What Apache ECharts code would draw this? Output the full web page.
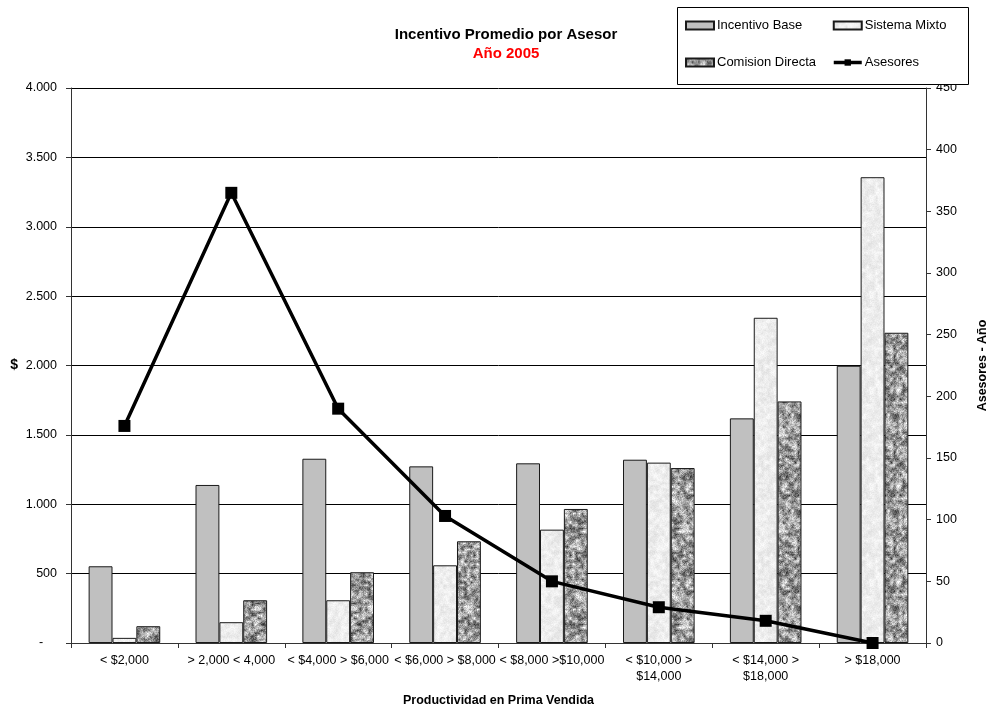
<!DOCTYPE html>
<html>
<head>
<meta charset="utf-8">
<title>Incentivo Promedio por Asesor</title>
<script src="https://cdn.jsdelivr.net/npm/echarts@6/dist/echarts.min.js"></script>
<style>
  html, body { margin: 0; padding: 0; background: #fff; }
  #chart { width: 990px; height: 709px; }
</style>
</head>
<body>
<div id="chart"></div>
<script>
// Productivity brackets (x axis)
const categories = [
  '< $2,000',
  '> 2,000 < 4,000',
  '< $4,000 > $6,000',
  '< $6,000 > $8,000',
  '< $8,000 >$10,000',
  '< $10,000 >\n$14,000',
  '< $14,000 >\n$18,000',
  '> $18,000'
];

// Average incentive per advisor ($), by scheme
const incentivoBase   = [553, 1139, 1328, 1273, 1295, 1321, 1619, 1998];
const sistemaMixto    = [37, 150, 308, 560, 817, 1300, 2344, 3357];
const comisionDirecta = [121, 308, 510, 733, 966, 1261, 1741, 2236];

// Number of advisors per bracket (right axis)
const asesores = [176, 365, 190, 103, 50, 29, 18, 0];

// Axis ranges
const leftMax = 4000, leftStep = 500;
const rightMax = 450, rightStep = 50;

const FONT = '"Liberation Sans", Arial, Helvetica, sans-serif';

// Deterministic hash used to build the stone-like bar fills
function speck(i) {
  const x = Math.sin(i * 12.9898 + 78.233) * 43758.5453;
  return x - Math.floor(x);
}

// Tileable value noise: lattice every `cell` px, bilinear blend, plus fine grain
function makeTexture(size, base, spread, cell, grain, seed) {
  const c = document.createElement('canvas');
  c.width = size; c.height = size;
  const ctx = c.getContext('2d');
  const img = ctx.createImageData(size, size);
  const n = size / cell;
  const lat = (i, j) => speck(seed + ((i % n + n) % n) * 131 + ((j % n + n) % n) * 977);
  for (let y = 0; y < size; y++) {
    for (let x = 0; x < size; x++) {
      const fx = x / cell, fy = y / cell;
      const i = Math.floor(fx), j = Math.floor(fy);
      const tx = fx - i, ty = fy - j;
      const a = lat(i, j), b = lat(i + 1, j), cc = lat(i, j + 1), d = lat(i + 1, j + 1);
      const blob = (a * (1 - tx) + b * tx) * (1 - ty) + (cc * (1 - tx) + d * tx) * ty;
      const fine = speck(seed * 7 + x * 57 + y * 1031);
      let g = base + ((blob * (1 - grain) + fine * grain) - 0.5) * spread;
      g = Math.max(0, Math.min(255, Math.round(g)));
      const k = (y * size + x) * 4;
      img.data[k] = g; img.data[k + 1] = g; img.data[k + 2] = g; img.data[k + 3] = 255;
    }
  }
  ctx.putImageData(img, 0, 0);
  return c;
}

const mixtoTexture = makeTexture(96, 237, 34, 3, 0.35, 11);
const comisionTexture = makeTexture(96, 155, 230, 3, 0.3, 29);

const chart = echarts.init(document.getElementById('chart'), null, { renderer: 'canvas' });

const barBorder = { borderColor: '#1a1a1a', borderWidth: 1 };
const legendText = { fontFamily: FONT, fontSize: 13, color: '#000', padding: [0, 0, 0, -2] };

chart.setOption({
  animation: false,
  backgroundColor: '#ffffff',
  title: [
    {
      text: 'Incentivo Promedio por Asesor',
      left: 506, top: 27, textAlign: 'center', padding: 0,
      textStyle: { fontFamily: FONT, fontSize: 15, fontWeight: 'bold', color: '#000' }
    },
    {
      text: 'Año 2005',
      left: 506, top: 46, textAlign: 'center', padding: 0,
      textStyle: { fontFamily: FONT, fontSize: 15, fontWeight: 'bold', color: '#ff0000' }
    }
  ],
  graphic: [
    {
      type: 'rect', z: 1,
      shape: { x: 677.5, y: 7.5, width: 291, height: 77 },
      style: { fill: '#ffffff', stroke: '#000000', lineWidth: 1 }
    }
  ],
  legend: [
    {
      data: [
        { name: 'Incentivo Base', icon: 'rect' },
        { name: 'Comision Directa', icon: 'rect' }
      ],
      orient: 'vertical', left: 685, top: 19, padding: 0, z: 5,
      itemWidth: 28, itemHeight: 8, itemGap: 24,
      textStyle: legendText
    },
    {
      data: [
        { name: 'Sistema Mixto', icon: 'rect' },
        { name: 'Asesores' }
      ],
      orient: 'vertical', left: 832, top: 19, padding: 0, z: 5,
      itemWidth: 28, itemHeight: 8, itemGap: 24,
      lineStyle: { width: 3.5 },
      textStyle: legendText
    }
  ],
  grid: { left: 71, right: 64, top: 88, bottom: 66, containLabel: false, outerBoundsMode: 'none' },
  xAxis: {
    type: 'category',
    data: categories,
    boundaryGap: true,
    name: 'Productividad en Prima Vendida',
    nameLocation: 'middle',
    nameGap: 51,
    nameTextStyle: { fontFamily: FONT, fontSize: 12.5, fontWeight: 'bold', color: '#000' },
    axisLine: { lineStyle: { color: '#333', width: 1 } },
    axisTick: { show: true, length: 5, inside: false, alignWithLabel: false, lineStyle: { color: '#333' } },
    axisLabel: {
      interval: 0, margin: 10, lineHeight: 16,
      fontFamily: FONT, fontSize: 12.5, color: '#000'
    },
    splitLine: { show: false }
  },
  yAxis: [
    {
      type: 'value',
      min: 0, max: leftMax, interval: leftStep,
      position: 'left',
      name: '$',
      nameLocation: 'middle',
      nameRotate: 0,
      nameGap: 53,
      nameTextStyle: { fontFamily: FONT, fontSize: 14, fontWeight: 'bold', color: '#000' },
      axisLine: { show: true, lineStyle: { color: '#333', width: 1 } },
      axisTick: { show: true, length: 5, lineStyle: { color: '#333' } },
      axisLabel: {
        margin: 14, fontFamily: FONT, fontSize: 12.5, color: '#000',
        formatter: function (v) {
          if (v === 0) return '-    ';
          return String(v).replace(/\B(?=(\d{3})+(?!\d))/g, '.');
        }
      },
      splitLine: { show: true, lineStyle: { color: '#000', width: 1 } }
    },
    {
      type: 'value',
      min: 0, max: rightMax, interval: rightStep,
      position: 'right',
      name: 'Asesores - Año',
      nameLocation: 'middle',
      nameRotate: 90,
      nameGap: 50,
      nameTextStyle: { fontFamily: FONT, fontSize: 12.5, fontWeight: 'bold', color: '#000' },
      axisLine: { show: true, lineStyle: { color: '#333', width: 1 } },
      axisTick: { show: true, length: 5, lineStyle: { color: '#333' } },
      axisLabel: { margin: 10, fontFamily: FONT, fontSize: 12.5, color: '#000' },
      splitLine: { show: false }
    }
  ],
  series: [
    {
      name: 'Incentivo Base', type: 'bar', yAxisIndex: 0,
      data: incentivoBase,
      barGap: '0%', barCategoryGap: '33%',
      itemStyle: Object.assign({ color: '#c0c0c0' }, barBorder),
      z: 2
    },
    {
      name: 'Sistema Mixto', type: 'bar', yAxisIndex: 0,
      data: sistemaMixto,
      barGap: '0%', barCategoryGap: '33%',
      itemStyle: Object.assign({ color: { image: mixtoTexture, repeat: 'repeat' } }, barBorder),
      z: 2
    },
    {
      name: 'Comision Directa', type: 'bar', yAxisIndex: 0,
      data: comisionDirecta,
      barGap: '0%', barCategoryGap: '33%',
      itemStyle: Object.assign({ color: { image: comisionTexture, repeat: 'repeat' } }, barBorder),
      z: 2
    },
    {
      name: 'Asesores', type: 'line', yAxisIndex: 1,
      data: asesores,
      symbol: 'rect', symbolSize: 12,
      lineStyle: { color: '#000', width: 3.5 },
      itemStyle: { color: '#000' },
      z: 5
    }
  ]
});
</script>
</body>
</html>
